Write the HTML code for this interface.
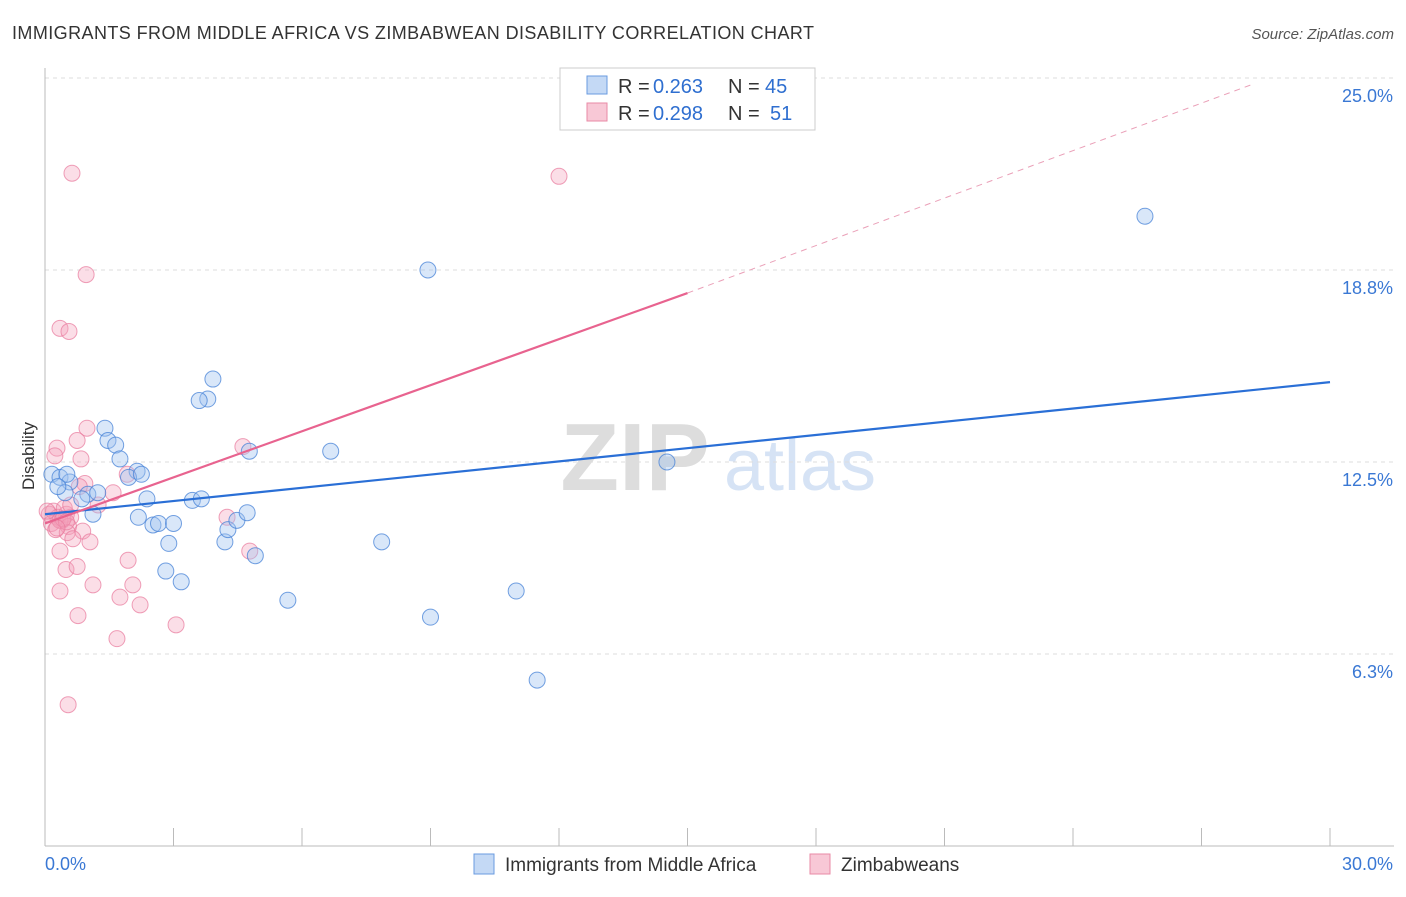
<!DOCTYPE html>
<html><head><meta charset="utf-8">
<style>
body{margin:0;background:#fff;font-family:"Liberation Sans",sans-serif;}
svg text{font-family:"Liberation Sans",sans-serif;}
</style></head>
<body>
<svg id="chart" width="1406" height="892" xmlns="http://www.w3.org/2000/svg">
<text x="12" y="39" font-size="18" fill="#333" textLength="802" lengthAdjust="spacing">IMMIGRANTS FROM MIDDLE AFRICA VS ZIMBABWEAN DISABILITY CORRELATION CHART</text>
<text x="1394" y="39" font-size="15" fill="#555" font-style="italic" text-anchor="end">Source: ZipAtlas.com</text>
<text x="34" y="456" font-size="17" fill="#333" transform="rotate(-90 34 456)" text-anchor="middle">Disability</text>
<g>
<text x="635" y="490" font-size="96" fill="#ddd" font-family="Liberation Serif" text-anchor="middle" font-weight="bold">ZIP</text>
<text x="800" y="490" font-size="72" fill="#d6e3f5" text-anchor="middle">atlas</text>
</g>
<g id="grid"></g>
<g id="axes"></g>
<g id="points"></g>
<g id="trends"></g>
<g>
<rect x="560" y="68" width="255" height="62" fill="#fff" stroke="#ccc"/>
<rect x="587" y="76" width="20" height="18" fill="#c4d9f5" stroke="#6a9be0"/>
<text x="618" y="93" font-size="20" fill="#333">R = </text><text x="653" y="93" font-size="20" fill="#2f6fd0">0.263</text>
<text x="728" y="93" font-size="20" fill="#333">N = </text><text x="765" y="93" font-size="20" fill="#2f6fd0">45</text>
<rect x="587" y="103" width="20" height="18" fill="#f8c8d6" stroke="#e88aa6"/>
<text x="618" y="120" font-size="20" fill="#333">R = </text><text x="653" y="120" font-size="20" fill="#2f6fd0">0.298</text>
<text x="728" y="120" font-size="20" fill="#333">N = </text><text x="770" y="120" font-size="20" fill="#2f6fd0">51</text>
</g>
<g>
<rect x="474" y="854" width="20" height="20" fill="#c4d9f5" stroke="#6a9be0"/>
<text x="505" y="871" font-size="19" fill="#333">Immigrants from Middle Africa</text>
<rect x="810" y="854" width="20" height="20" fill="#f8c8d6" stroke="#e88aa6"/>
<text x="841" y="871" font-size="19" fill="#333">Zimbabweans</text>
</g>
</svg>
<script>
const yTicks=[6.25,12.5,18.75,25];
const yTickLabels=["6.3%","12.5%","18.8%","25.0%"];
const xTickLabels=["0.0%","30.0%"];
const blueX=[0.16,0.35,0.58,0.51,0.47,1.0,0.86,1.12,1.4,1.47,1.65,1.75,2.15,1.95,2.25,2.38,2.52,2.65,2.18,2.82,3.0,3.18,3.44,3.65,3.8,2.89,4.2,4.27,4.48,4.77,4.72,4.91,5.67,6.67,7.86,8.94,9.0,11.0,11.49,14.52,25.68,3.92,3.6,1.23,0.3];
const blueY=[12.1,12.0,11.85,12.1,11.5,11.45,11.3,10.8,13.6,13.2,13.05,12.6,12.2,12.0,12.1,11.3,10.45,10.5,10.7,8.95,10.5,8.6,11.25,11.3,14.55,9.85,9.9,10.3,10.6,12.85,10.85,9.45,8.0,12.85,9.9,18.75,7.45,8.3,5.4,12.5,20.5,15.2,14.5,11.5,11.7];
const pinkX=[0.98,0.75,0.28,0.23,0.84,1.92,0.93,1.59,1.24,4.62,0.1,0.2,0.3,0.4,0.5,0.6,0.15,0.25,0.35,0.05,0.45,0.55,0.52,0.88,0.65,1.05,0.35,4.25,0.49,0.75,1.94,1.12,2.05,0.35,1.75,2.22,0.77,3.06,1.68,0.54,0.63,12.0,0.96,0.35,0.56,4.78,0.42,0.5,0.28,0.6,0.8];
const pinkY=[13.6,13.2,12.95,12.7,12.6,12.1,11.8,11.5,11.1,13.0,10.8,10.9,10.7,10.6,10.8,10.7,10.5,10.3,10.6,10.9,11.0,10.4,10.2,10.25,10.0,9.9,9.6,10.7,9.0,9.1,9.3,8.5,8.5,8.3,8.1,7.85,7.5,7.2,6.75,4.6,21.9,21.8,18.6,16.85,16.75,9.6,10.65,10.55,10.35,11.1,11.7];
const blueTrend=[[0,10.8],[30,15.1]];
const pinkTrend=[[0,10.5],[15,18.0]];
const pinkExt=[[15,18.0],[28.2,24.8]];
const NS="http://www.w3.org/2000/svg";
const X0=45,X1=1330;
function xs(v){return X0+(v/30)*(X1-X0);}
function ys(v){return 462-(v-12.5)*30.72;}
function mk(tag,attrs,parent){const e=document.createElementNS(NS,tag);for(const k in attrs)e.setAttribute(k,attrs[k]);parent.appendChild(e);return e;}
const grid=document.getElementById('grid'),axes=document.getElementById('axes'),pts=document.getElementById('points'),tr=document.getElementById('trends');
yTicks.forEach((t,i)=>{
 const l=mk('line',{x1:X0,x2:1394,y1:ys(t),y2:ys(t),stroke:'#ddd','stroke-dasharray':'4,4'},grid);
 
 
 const tx=mk('text',{x:1393,y:ys(t)+24,'font-size':18,fill:'#3a78d4','text-anchor':'end'},axes);
 tx.textContent=yTickLabels[i];
 
 
});
const ya=mk('line',{x1:X0,x2:X0,y1:68,y2:846,stroke:'#bbb'},axes);


const xa=mk('line',{x1:X0,x2:1394,y1:846,y2:846,stroke:'#bbb'},axes);


for(let i=0;i<=10;i++){
 const t=mk('line',{x1:xs(i*3),x2:xs(i*3),y1:828,y2:846,stroke:'#bbb'},axes);
 
 
}
const xl0=mk('text',{x:45,y:870,'font-size':18,fill:'#3a78d4'},axes);xl0.textContent=xTickLabels[0];


const xl1=mk('text',{x:1393,y:870,'font-size':18,fill:'#3a78d4','text-anchor':'end'},axes);xl1.textContent=xTickLabels[1];


pinkX.forEach((x,i)=>{
 const c=mk('circle',{cx:xs(x),cy:ys(pinkY[i]),r:8,fill:'rgba(244,160,185,0.35)',stroke:'rgba(232,120,155,0.7)','stroke-width':1},pts);
 
 
});
blueX.forEach((x,i)=>{
 const c=mk('circle',{cx:xs(x),cy:ys(blueY[i]),r:8,fill:'rgba(160,195,240,0.4)',stroke:'rgba(70,130,215,0.75)','stroke-width':1},pts);
 
 
});
const bl=mk('line',{x1:xs(blueTrend[0][0]),y1:ys(blueTrend[0][1]),x2:xs(blueTrend[1][0]),y2:ys(blueTrend[1][1]),stroke:'#2a6fd6','stroke-width':2.2},tr);


const pl=mk('line',{x1:xs(pinkTrend[0][0]),y1:ys(pinkTrend[0][1]),x2:xs(pinkTrend[1][0]),y2:ys(pinkTrend[1][1]),stroke:'#e8638f','stroke-width':2.2},tr);


const pe=mk('line',{x1:xs(pinkExt[0][0]),y1:ys(pinkExt[0][1]),x2:xs(pinkExt[1][0]),y2:ys(pinkExt[1][1]),stroke:'#eaa0b8','stroke-width':1,'stroke-dasharray':'6,5'},tr);


</script>
</body></html>
